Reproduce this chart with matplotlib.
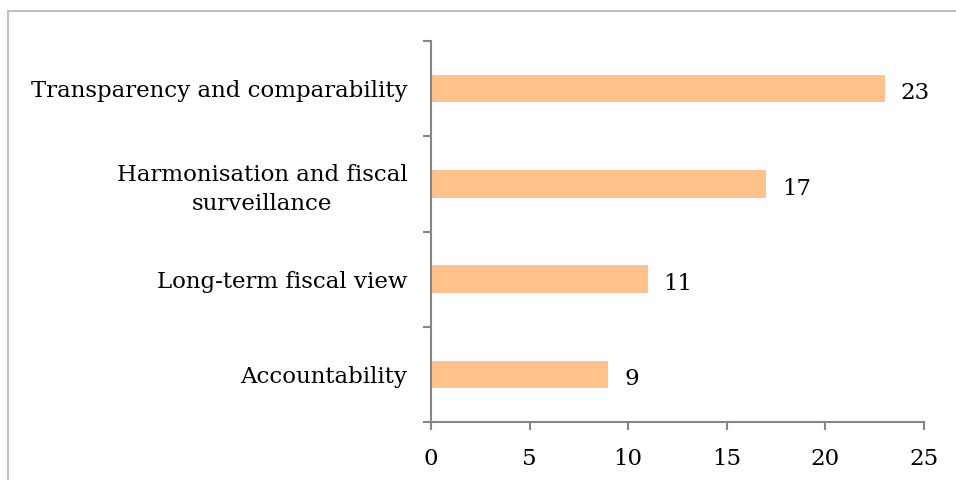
import matplotlib.pyplot as plt
from matplotlib.patches import Rectangle

categories = ["Accountability", "Long-term fiscal view",
              "Harmonisation and fiscal\nsurveillance",
              "Transparency and comparability"]
values = [9, 11, 17, 23]
xticks = [0, 5, 10, 15, 20, 25]

plt.rcParams['font.family'] = ['DejaVu Serif']
grey = '#868686'
fs = 16.5

fig = plt.figure(figsize=(9.56, 4.8), dpi=100)
ax = fig.add_axes([0.4508, 0.1208, 0.5157, 0.7938])

pos = list(range(len(categories)))
ax.barh(pos, values, height=0.29, color='#FFC28A', edgecolor='none')

for p, v in zip(pos, values):
    ax.text(v + 0.8, p - 0.05, str(v), va='center', ha='left', fontsize=fs)

ax.set_xlim(0, 25)
ax.set_ylim(-0.5, len(categories) - 0.5)
ax.set_xticks(xticks)
ax.set_xticklabels([str(t) for t in xticks], fontsize=fs)
ax.set_yticks(pos)
ax.set_yticklabels(categories, fontsize=fs, linespacing=1.4,
                   multialignment='center')
ax.tick_params(axis='y', length=0, pad=17)
ax.tick_params(axis='x', length=6, width=1.5, color=grey, pad=13, direction='out')

# category boundary ticks on the y axis
ax.set_yticks([p - 0.5 for p in range(len(categories) + 1)], minor=True)
ax.tick_params(axis='y', which='minor', length=6, width=1.5, color=grey, direction='out')

for s in ['top', 'right']:
    ax.spines[s].set_visible(False)
for s in ['left', 'bottom']:
    ax.spines[s].set_color(grey)
    ax.spines[s].set_linewidth(1.5)

# outer frame
fig.patches.append(Rectangle((8 / 956, -0.1), 1.2, (480 - 11) / 480 + 0.1,
                             transform=fig.transFigure, fill=False,
                             edgecolor='#BFBFBF', linewidth=1.5))

fig.savefig('out.png', dpi=100)
